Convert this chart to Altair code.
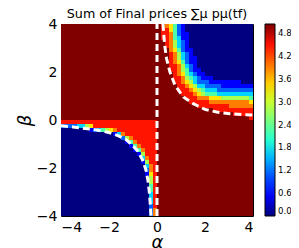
import altair as alt
import pandas as pd

# ---- heatmap levels -----------------------------------------------------
# 0 = navy (value 0) ... 9 = dark red (top of colour bar); 48 x 48 cells,
# rows from beta = 4 (top) down to beta = -4, columns from alpha = -4 to 4.
grid_rows = [
    "999999 999999 999999 999999 | 987642 100000 000000 000000",
    "999999 999999 999999 999999 | 988642 100000 000000 000000",
    "999999 999999 999999 999999 | 988742 110000 000000 000000",
    "999999 999999 999999 999999 | 988743 110000 000000 000000",
    "999999 999999 999999 999999 | 998753 210000 000000 000000",
    "999999 999999 999999 999999 | 998753 210000 000000 000000",
    "999999 999999 999999 999999 | 999764 211000 000000 000000",
    "999999 999999 999999 999999 | 999875 321000 000000 000000",
    "999999 999999 999999 999999 | 999875 321100 000000 000000",
    "999999 999999 999999 999999 | 999876 421100 000000 000000",
    "999999 999999 999999 999999 | 999887 532100 000000 000000",
    "999999 999999 999999 999999 | 999887 542110 000000 000000",
    "999999 999999 999999 999999 | 999987 643211 000000 000000",
    "999999 999999 999999 999999 | 999988 754321 110000 000000",
    "999999 999999 999999 999999 | 999988 765322 211111 111000",
    "999999 999999 999999 999999 | 999998 876533 222211 111111",
    "999999 999999 999999 999999 | 999998 887654 333222 222222",
    "999999 999999 999999 999999 | 999999 888765 444333 333333",
    "999999 999999 999999 999999 | 999999 988877 766655 555554",
    "999999 999999 999999 999999 | 999999 998888 877777 777776",
    "999999 999999 999999 999999 | 999999 999988 888888 777777",
    "999999 999999 999999 999999 | 999999 999999 998888 888888",
    "999999 999999 999999 999999 | 999999 999999 999999 988888",
    "999999 999999 999999 999999 | 999999 999999 999999 999998",
    "888888 888888 888888 888888 | 999999 999999 999999 999999",
    "222233 568888 888888 888888 | 999999 999999 999999 999999",
    "000000 012345 678888 888888 | 999999 999999 999999 999999",
    "000000 000000 013788 888888 | 999999 999999 999999 999999",
    "000000 000000 000257 888888 | 999999 999999 999999 999999",
    "000000 000000 000014 788888 | 999999 999999 999999 999999",
    "000000 000000 000001 478888 | 999999 999999 999999 999999",
    "000000 000000 000000 147888 | 999999 999999 999999 999999",
    "000000 000000 000000 015888 | 999999 999999 999999 999999",
    "000000 000000 000000 003788 | 999999 999999 999999 999999",
    "000000 000000 000000 001588 | 999999 999999 999999 999999",
    "000000 000000 000000 000378 | 999999 999999 999999 999999",
    "000000 000000 000000 000278 | 999999 999999 999999 999999",
    "000000 000000 000000 000168 | 999999 999999 999999 999999",
    "000000 000000 000000 000058 | 999999 999999 999999 999999",
    "000000 000000 000000 000058 | 999999 999999 999999 999999",
    "000000 000000 000000 000048 | 999999 999999 999999 999999",
    "000000 000000 000000 000048 | 999999 999999 999999 999999",
    "000000 000000 000000 000038 | 999999 999999 999999 999999",
    "000000 000000 000000 000038 | 999999 999999 999999 999999",
    "000000 000000 000000 000038 | 999999 999999 999999 999999",
    "000000 000000 000000 000028 | 999999 999999 999999 999999",
    "000000 000000 000000 000027 | 999999 999999 999999 999999",
    "000000 000000 000000 000027 | 999999 999999 999999 999999",
]
V_MAX = 5.04          # top of the colour bar
ALPHA_RANGE = [-4, 4]
BETA_RANGE = [-4, 4]

# ---- dashed white curves -------------------------------------------------
vline_alpha = [0.0, 0.0]
vline_beta = [-4.0, 4.0]
upper_alpha = [0.25, 0.29, 0.33, 0.40, 0.54, 0.75, 1.10, 1.51, 2.00, 2.49, 3.04, 3.60, 4.00]
upper_beta = [4.00, 3.46, 3.04, 2.55, 2.00, 1.45, 0.96, 0.68, 0.44, 0.33, 0.26, 0.22, 0.21]
lower_alpha = [-4.0, -3.5, -3.0, -2.5, -2.0, -1.6, -1.3, -1.05, -0.8, -0.6, -0.46, -0.38, -0.32, -0.28, -0.25]
lower_beta = [-0.24, -0.29, -0.35, -0.42, -0.52, -0.66, -0.81, -1.02, -1.3, -1.67, -2.08, -2.5, -3.0, -3.5, -4.0]

# ---- axes / colour bar ----------------------------------------------------
axis_ticks = [-4, -3, -2, -1, 0, 1, 2, 3, 4]
cbar_ticks = [0.0, 0.6, 1.2, 1.8, 2.4, 3.0, 3.6, 4.2, 4.8]
jet_stops = [0, 0.11, 0.125, 0.34, 0.35, 0.375, 0.64, 0.65, 0.66, 0.89, 0.91, 1]
jet_colors = ["#000080", "#0000ff", "#0000ff", "#00dbff", "#00e5f7", "#14ffe2",
              "#eeff08", "#f7f600", "#ffec00", "#ff1300", "#e80000", "#800000"]

# ---- build tables ----------------------------------------------------------
cells = [r.replace(" ", "").replace("|", "") for r in grid_rows]
n_rows = len(cells)
n_cols = len(cells[0])
da = (ALPHA_RANGE[1] - ALPHA_RANGE[0]) / n_cols
db = (BETA_RANGE[1] - BETA_RANGE[0]) / n_rows
recs = []
for r, row in enumerate(cells):
    for c, ch in enumerate(row):
        recs.append({
            "a0": ALPHA_RANGE[0] + c * da, "a1": ALPHA_RANGE[0] + (c + 1) * da,
            "b1": BETA_RANGE[1] - r * db, "b0": BETA_RANGE[1] - (r + 1) * db,
            "v": int(ch) / 9 * V_MAX,
        })
heat_df = pd.DataFrame(recs)

line_recs = []
for name, aa, bb in [("v", vline_alpha, vline_beta), ("u", upper_alpha, upper_beta),
                     ("l", lower_alpha, lower_beta)]:
    for i, (a, b) in enumerate(zip(aa, bb)):
        line_recs.append({"curve": name, "i": i, "a": a, "b": b})
line_df = pd.DataFrame(line_recs)

FONT = "DejaVu Sans"
color_scale = alt.Scale(domain=[s * V_MAX for s in jet_stops], range=jet_colors, interpolate="rgb")
xs = alt.Scale(domain=ALPHA_RANGE, nice=False, zero=False)
ys = alt.Scale(domain=BETA_RANGE, nice=False, zero=False)

heat = alt.Chart(heat_df).mark_rect().encode(
    x=alt.X("a0:Q", scale=xs, axis=alt.Axis(values=axis_ticks, format="d", title="α",
                                            titleFontStyle="italic", titleFontSize=18,
                                            titleFontWeight="normal", titlePadding=-1,
                                            labelPadding=4, ticks=False, domain=False, grid=False)),
    x2="a1:Q",
    y=alt.Y("b0:Q", scale=ys, axis=alt.Axis(values=axis_ticks, format="d", title="β",
                                            titleFontStyle="italic", titleFontSize=18,
                                            titleFontWeight="normal", titlePadding=2,
                                            labelPadding=4, ticks=False, domain=False, grid=False)),
    y2="b1:Q",
    color=alt.Color("v:Q", scale=color_scale,
                    legend=alt.Legend(type="gradient", title=None, orient="none",
                                      legendX=204, legendY=0,
                                      direction="vertical", gradientLength=192,
                                      gradientThickness=10, values=cbar_ticks, format=".1f",
                                      labelFontSize=8.6, labelFont=FONT, labelOffset=3,
                                      labelBaseline="middle", labelColor="black",
                                      gradientStrokeColor="black", gradientStrokeWidth=1,
                                      padding=0, labelOverlap=False)),
)

lines = alt.Chart(line_df).mark_line(color="white", strokeWidth=3, strokeDash=[7, 4], clip=True).encode(
    x=alt.X("a:Q", scale=xs),
    y=alt.Y("b:Q", scale=ys),
    detail="curve:N",
    order="i:Q",
)

chart = alt.layer(heat, lines).properties(
    width=192, height=192,
    title=alt.TitleParams("Sum of Final prices ∑μ pμ(tf)", fontSize=12.7, font=FONT,
                          fontWeight="normal", anchor="middle", frame="group",
                          offset=4, dy=8, color="black"),
    padding={"left": 53, "top": 16, "right": 38, "bottom": 32},
    autosize="none",
).configure_view(stroke="black", strokeWidth=1).configure_axis(
    labelFont=FONT, labelFontSize=14, labelColor="black", titleFont=FONT, titleColor="black"
)

chart.save("out.html", embed_options={"renderer": "svg", "actions": False})
